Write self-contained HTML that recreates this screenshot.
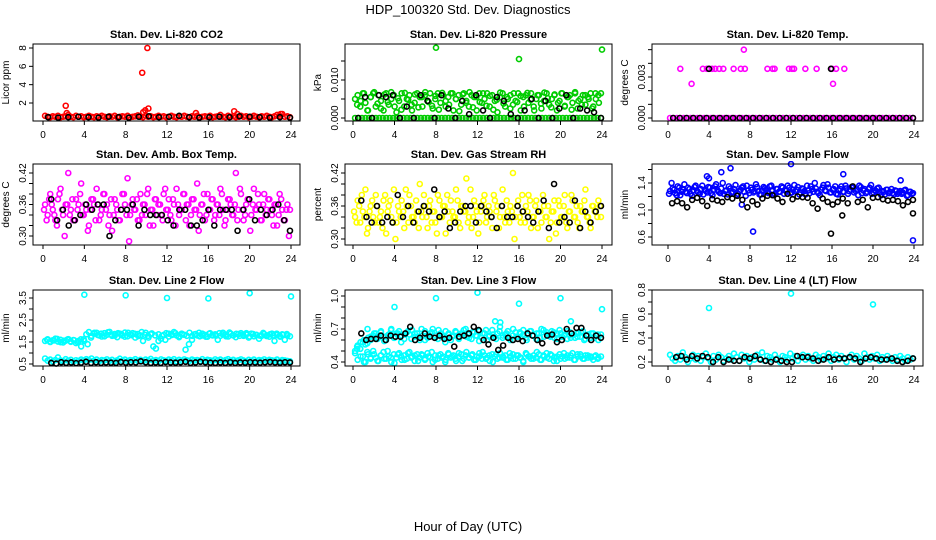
<!DOCTYPE html>
<html><head><meta charset="utf-8"><style>
html,body{margin:0;padding:0;background:#fff;}
svg{display:block;font-family:"Liberation Sans",sans-serif;}
</style></head><body>
<svg id="chart" width="936" height="540" viewBox="0 0 936 540">
<text x="468" y="14" text-anchor="middle" font-size="13">HDP_100320  Std. Dev. Diagnostics</text>
<text x="468" y="531" text-anchor="middle" font-size="13">Hour of Day (UTC)</text>
</svg>
<script>
// ---------- data ----------
const xTicks = [0,4,8,12,16,20,24];

const co2Red = [0.6,0.5,0.45,0.55,0.5,0.6,0.45,0.5,0.55,0.7,0.5,0.45,0.6,0.5,0.55,0.45,0.5,0.6,0.5,0.45,0.55,0.5,0.6,0.5,0.45,0.55,0.5,0.6,0.45,0.5,0.55,0.5,0.6,0.45,0.5,0.55,0.65,0.5,0.45,0.6,0.5,0.55,0.45,0.5,0.6,0.5,0.55,0.45,0.5,0.6,0.5,0.45,0.55,0.5,0.6,0.5,0.45,0.55,0.5,0.6,0.45,0.5,0.55,0.5,0.6,0.45,0.5,0.55,0.7,0.5,0.45,0.6,0.5,0.55,0.45,0.5,0.6,0.5,0.55,0.45,0.5,0.6,0.5,0.45,0.55,0.5,0.6,0.5,0.45,0.55,0.7,0.6,0.8,0.5,0.55,0.45];
const co2Black = [0.45,0.4,0.45,0.5,0.45,0.4,0.5,0.45,0.4,0.5,0.55,0.45,0.5,0.6,0.45,0.4,0.45,0.5,0.45,0.55,0.5,0.45,0.4,0.45,0.4];
const co2OutHours = [2.2,2.3,9.6,10.1,9.7,9.9,10.2,14.8,18.5,18.8,23.0];
const co2OutVals = [1.7,0.9,5.3,8.0,1.0,1.2,1.4,0.9,1.1,0.8,0.8];

const presGreen = [0.005,0.006,0.003,0.0065,0.004,0.002,0.0055,0.0065,0.003,0.006,0.0045,0.002,0.0065,0.0035,0.005,0.006,0.0015,0.0045,0.0065,0.003,0.005,0.006,0.002,0.004,0.0065,0.0055,0.003,0.006,0.0045,0.0065,0.0025,0.005,0.0065,0.004,0.006,0.003,0.0055,0.0065,0.002,0.005,0.006,0.0035,0.0065,0.0045,0.003,0.006,0.0055,0.002,0.0065,0.004,0.005,0.0065,0.003,0.006,0.0045,0.0015,0.0055,0.0065,0.003,0.005,0.006,0.0035,0.0045,0.0065,0.002,0.0055,0.006,0.004,0.0065,0.003,0.005,0.006,0.0025,0.0045,0.0065,0.0035,0.005,0.006,0.002,0.0045,0.0065,0.003,0.0055,0.006,0.004,0.0065,0.0025,0.005,0.006,0.0035,0.0055,0.0065,0.003,0.005,0.006,0.0065];
const presGreenB = [0.0035,0.0045,0.0065,0.002,0.0055,0.0068,0.0038,0.0025,0.0062,0.0042,0.0068,0.003,0.0052,0.0022,0.0066,0.0048,0.0035,0.0062,0.0028,0.0055,0.0068,0.0042,0.0032,0.0058,0.0022,0.0066,0.0045,0.0035,0.0065,0.005,0.0018,0.0062,0.004,0.0068,0.0028,0.0055,0.0042,0.0065,0.0032,0.0058,0.0022,0.0048,0.0067,0.0038,0.0055,0.0025,0.0065,0.0042,0.0058,0.003,0.0066,0.0048,0.002,0.006,0.0038,0.0067,0.0052,0.0028,0.0062,0.004,0.0065,0.0032,0.0055,0.0022,0.0068,0.0045,0.0035,0.006,0.005,0.0025,0.0065,0.004];
const presGreen0 = [0,0,0,0,0,0,0,0,0,0,0,0,0,0,0,0,0,0,0,0,0,0,0,0,0,0,0,0,0,0,0,0,0,0,0,0,0,0,0,0,0,0,0,0,0,0,0,0,0,0,0,0,0,0,0,0,0,0,0,0,0,0,0,0,0,0,0,0,0,0,0,0];
const presBlack = [0,0.0055,0,0.006,0.0055,0.006,0,0.003,0,0.006,0.0045,0,0.006,0.0025,0,0.0045,0.001,0.006,0.002,0,0.0055,0.0045,0.001,0,0.002,0.005,0,0.0045,0,0.0025,0.006,0,0.0025,0.002,0.0015,0];
const presOutHours = [8.0,16.0,24.0];
const presOutVals = [0.0185,0.0155,0.018];

const tempMag0 = [0,0,0,0,0,0,0,0,0,0,0,0,0,0,0,0,0,0,0,0,0,0,0,0,0,0,0,0,0,0,0,0,0,0,0,0,0,0,0,0,0,0,0,0,0,0,0,0,0,0,0,0,0,0,0,0,0,0,0,0,0,0,0,0,0,0,0,0,0,0,0,0];
const tempBlack0 = [0,0,0,0,0,0,0,0,0,0,0,0,0,0,0,0,0,0,0,0,0,0,0,0,0,0,0,0,0,0,0,0,0,0,0,0,0];
const tempMagHours = [1.2,3.4,3.8,4.3,4.6,5.0,5.4,6.4,7.1,7.5,9.7,10.2,10.4,11.8,12.1,12.3,13.4,14.5,16.0,16.4,17.2,2.3,7.4,16.1];
const tempMagVals = [0.0036,0.0036,0.0036,0.0036,0.0036,0.0036,0.0036,0.0036,0.0036,0.0036,0.0036,0.0036,0.0036,0.0036,0.0036,0.0036,0.0036,0.0036,0.0036,0.0036,0.0036,0.0025,0.005,0.0025];
const tempBlackHours = [4.0,15.9];
const tempBlackVals = [0.0036,0.0036];

const ambMagA = [0.36,0.34,0.38,0.35,0.33,0.37,0.39,0.34,0.36,0.42,0.35,0.33,0.37,0.36,0.40,0.34,0.35,0.32,0.37,0.36,0.39,0.33,0.35,0.38,0.36,0.34,0.31,0.37,0.35,0.33,0.38,0.36,0.41,0.34,0.37,0.35,0.33,0.38,0.36,0.34,0.39,0.35,0.32,0.37,0.36,0.34,0.38,0.35,0.37,0.33,0.36,0.39,0.34,0.35,0.38,0.36,0.32,0.37,0.35,0.40,0.34,0.36,0.33,0.38,0.35,0.37,0.34,0.36,0.39,0.35,0.33,0.37,0.36,0.34,0.42,0.35,0.38,0.33,0.36,0.37,0.34,0.39,0.35,0.36,0.33,0.38,0.35,0.37,0.34,0.36,0.32,0.38,0.35,0.33,0.36,0.35];
const ambMagB = [0.35,0.33,0.37,0.36,0.34,0.32,0.38,0.35,0.30,0.36,0.34,0.37,0.33,0.35,0.38,0.34,0.36,0.31,0.35,0.37,0.33,0.36,0.34,0.38,0.35,0.32,0.37,0.34,0.36,0.33,0.35,0.38,0.34,0.29,0.36,0.35,0.37,0.33,0.34,0.36,0.38,0.32,0.35,0.37,0.34,0.36,0.33,0.39,0.35,0.34,0.37,0.32,0.36,0.35,0.38,0.33,0.36,0.34,0.37,0.35,0.31,0.36,0.38,0.34,0.35,0.37,0.33,0.36,0.34,0.38,0.32,0.35,0.37,0.34,0.36,0.33,0.39,0.35,0.34,0.37,0.31,0.36,0.35,0.38,0.33,0.36,0.34,0.37,0.35,0.32,0.36,0.34,0.37,0.33,0.35,0.30];
const ambBlack = [0.37,0.33,0.35,0.32,0.33,0.34,0.36,0.35,0.36,0.36,0.30,0.33,0.35,0.35,0.36,0.32,0.35,0.34,0.34,0.34,0.33,0.32,0.35,0.35,0.32,0.32,0.33,0.35,0.32,0.35,0.35,0.35,0.31,0.35,0.37,0.33,0.35,0.34,0.35,0.36,0.33,0.31];

const rhYelA = [0.34,0.37,0.33,0.35,0.39,0.32,0.36,0.34,0.38,0.33,0.35,0.37,0.31,0.36,0.34,0.39,0.33,0.35,0.37,0.32,0.36,0.38,0.34,0.33,0.35,0.40,0.34,0.36,0.32,0.37,0.35,0.33,0.38,0.34,0.36,0.31,0.35,0.37,0.34,0.39,0.33,0.36,0.35,0.41,0.34,0.32,0.37,0.35,0.33,0.36,0.38,0.34,0.35,0.32,0.37,0.36,0.34,0.39,0.33,0.35,0.36,0.42,0.34,0.37,0.33,0.35,0.36,0.38,0.32,0.34,0.37,0.35,0.33,0.36,0.34,0.30,0.35,0.37,0.33,0.36,0.34,0.38,0.32,0.35,0.37,0.34,0.33,0.36,0.35,0.39,0.34,0.32,0.36,0.35,0.37,0.34];
const rhYelB = [0.35,0.33,0.36,0.38,0.34,0.31,0.35,0.37,0.33,0.36,0.34,0.32,0.38,0.35,0.37,0.33,0.30,0.36,0.34,0.35,0.39,0.33,0.36,0.34,0.37,0.32,0.35,0.38,0.34,0.36,0.33,0.35,0.31,0.37,0.34,0.36,0.38,0.33,0.35,0.34,0.37,0.32,0.36,0.35,0.33,0.39,0.34,0.36,0.31,0.35,0.37,0.33,0.36,0.34,0.38,0.35,0.32,0.36,0.34,0.37,0.33,0.35,0.30,0.36,0.34,0.38,0.33,0.35,0.37,0.34,0.36,0.32,0.35,0.38,0.34,0.36,0.33,0.35,0.31,0.37,0.34,0.36,0.33,0.35,0.38,0.34,0.36,0.32,0.35,0.37,0.34,0.33,0.36,0.35,0.34,0.36];
const rhBlack = [0.37,0.34,0.33,0.36,0.33,0.34,0.33,0.38,0.34,0.36,0.33,0.35,0.36,0.35,0.39,0.34,0.35,0.32,0.33,0.35,0.36,0.36,0.33,0.36,0.35,0.34,0.32,0.36,0.34,0.34,0.36,0.35,0.34,0.33,0.35,0.37,0.32,0.40,0.33,0.34,0.33,0.37,0.32,0.35,0.33,0.35,0.36];

const flowBlueA = [1.28,1.32,1.25,1.35,1.22,1.30,1.27,1.33,1.24,1.29,1.36,1.26,1.31,1.23,1.28,1.34,1.25,1.30,1.38,1.27,1.32,1.24,1.29,1.35,1.26,1.31,1.22,1.28,1.33,1.27,1.36,1.25,1.30,1.28,1.34,1.23,1.29,1.32,1.26,1.35,1.28,1.24,1.31,1.27,1.33,1.29,1.36,1.25,1.30,1.28,1.34,1.26,1.31,1.23,1.29,1.35,1.27,1.32,1.25,1.30,1.37,1.28,1.33,1.26,1.31,1.24,1.29,1.35,1.27,1.32,1.28,1.34,1.26,1.30,1.36,1.25,1.31,1.27,1.33,1.24,1.29,1.32,1.26,1.28,1.23,1.30,1.27,1.25,1.29,1.24,1.28,1.26,1.30,1.22,1.27,1.25];
const flowBlueB = [1.24,1.40,1.30,1.22,1.33,1.27,1.38,1.25,1.31,1.21,1.34,1.28,1.24,1.36,1.30,1.26,1.33,1.22,1.35,1.29,1.25,1.40,1.28,1.23,1.32,1.27,1.37,1.24,1.30,1.35,1.21,1.29,1.33,1.26,1.38,1.28,1.23,1.34,1.30,1.25,1.36,1.22,1.31,1.27,1.35,1.24,1.29,1.33,1.26,1.37,1.30,1.23,1.32,1.28,1.36,1.25,1.31,1.40,1.27,1.22,1.33,1.29,1.38,1.26,1.30,1.35,1.23,1.31,1.27,1.36,1.24,1.30,1.33,1.28,1.22,1.34,1.29,1.25,1.31,1.37,1.26,1.28,1.33,1.22,1.27,1.30,1.25,1.31,1.23,1.28,1.26,1.24,1.29,1.21,1.27,1.24];
const flowBlack = [1.10,1.13,1.10,1.04,1.15,1.18,1.13,1.06,1.16,1.14,1.12,1.19,1.17,1.21,1.15,1.04,1.13,1.08,1.17,1.21,1.22,1.17,1.12,1.24,1.16,1.20,1.19,1.18,1.10,1.02,1.17,1.12,1.08,1.12,1.17,1.10,1.35,1.12,1.15,1.04,1.18,1.19,1.16,1.14,1.15,1.13,1.07,1.12,1.15];
const flowBlueOutHours = [3.8,4.0,5.2,6.1,12.0,8.3,17.1,23.9,7.2,22.7];
const flowBlueOutVals = [1.50,1.47,1.56,1.62,1.68,0.68,1.53,0.55,1.08,1.44];
const flowBlackOutHours = [15.9,17.0,23.9];
const flowBlackOutVals = [0.65,0.92,0.95];

const l2Upper = [1.55,1.62,1.50,1.58,1.65,1.52,1.60,1.48,1.56,1.63,1.51,1.59,1.45,1.55,1.30,1.62,1.85,1.95,1.78,1.88,1.92,1.80,1.75,1.90,1.83,1.96,1.78,1.86,1.72,1.88,1.80,1.93,1.76,1.84,1.90,1.70,1.86,1.80,1.55,1.92,1.78,1.85,1.30,1.20,1.55,1.65,1.82,1.90,1.75,1.86,1.95,1.80,1.72,1.88,1.83,1.78,1.92,1.60,1.85,1.80,1.76,1.88,1.82,1.74,1.90,1.80,1.85,1.60,1.78,1.92,1.83,1.75,1.88,1.80,1.72,1.86,1.90,1.78,1.84,1.70,1.88,1.76,1.82,1.65,1.78,1.86,1.80,1.74,1.88,1.55,1.82,1.78,1.85,1.60,1.80,1.76];
const l2UpperB = [1.60,1.52,1.57,1.64,1.49,1.56,1.61,1.53,1.58,1.50,1.62,1.55,1.40,1.70,1.92,1.82,1.88,1.76,1.94,1.84,1.79,1.90,1.86,1.74,1.92,1.81,1.87,1.77,1.95,1.83,1.70,1.89,1.80,1.85,1.78,1.60,1.88,1.82,1.90,1.76,1.84,1.15,1.40,1.78,1.86,1.92,1.80,1.74,1.88,1.83,1.79,1.90,1.85,1.76,1.93,1.81,1.87,1.78,1.84,1.90,1.75,1.86,1.82,1.79,1.91,1.77,1.85,1.80,1.88,1.74,1.83,1.86];
const l2Lower = [0.75,0.65,0.70,0.62,0.68,0.80,0.66,0.63,0.72,0.65,0.69,0.61,0.67,0.64,0.70,0.66,0.72,0.68,0.75,0.65,0.70,0.63,0.68,0.66,0.71,0.64,0.69,0.62,0.67,0.74,0.65,0.70,0.63,0.68,0.66,0.72,0.64,0.69,0.62,0.70,0.66,0.73,0.65,0.68,0.63,0.71,0.67,0.64,0.70,0.66,0.72,0.63,0.69,0.65,0.71,0.67,0.64,0.70,0.66,0.68,0.63,0.72,0.65,0.69,0.67,0.64,0.71,0.66,0.70,0.63,0.68,0.72,0.65,0.69,0.64,0.67,0.71,0.66,0.62,0.69,0.65,0.70,0.63,0.68,0.66,0.71,0.64,0.69,0.67,0.65,0.70,0.63,0.68,0.66,0.64,0.62];
const l2Black = [0.55,0.52,0.58,0.55,0.57,0.54,0.56,0.60,0.55,0.58,0.55,0.57,0.56,0.55,0.59,0.56,0.58,0.57,0.62,0.58,0.55,0.57,0.55,0.59,0.57,0.56,0.58,0.60,0.55,0.57,0.60,0.58,0.56,0.55,0.57,0.55,0.58,0.55,0.57,0.56,0.58,0.57,0.56,0.58,0.59,0.57,0.56,0.58,0.57];
const l2OutHours = [4.0,8.0,12.0,16.0,20.0,24.0];
const l2OutVals = [3.65,3.62,3.50,3.48,3.72,3.57];

const l3Upper = [0.50,0.55,0.52,0.58,0.56,0.62,0.60,0.64,0.66,0.62,0.68,0.63,0.60,0.65,0.70,0.62,0.66,0.68,0.64,0.61,0.67,0.65,0.69,0.63,0.66,0.60,0.64,0.68,0.62,0.66,0.70,0.64,0.61,0.66,0.63,0.68,0.65,0.60,0.64,0.67,0.62,0.66,0.69,0.63,0.65,0.61,0.67,0.64,0.68,0.62,0.66,0.60,0.64,0.69,0.63,0.66,0.72,0.62,0.65,0.68,0.60,0.64,0.67,0.63,0.66,0.69,0.62,0.65,0.68,0.64,0.61,0.66,0.70,0.63,0.67,0.64,0.68,0.62,0.66,0.69,0.63,0.65,0.61,0.67,0.64,0.62,0.66,0.63,0.68,0.61,0.65,0.62,0.66,0.64,0.60,0.65];
const l3UpperB = [0.54,0.58,0.60,0.57,0.63,0.66,0.61,0.67,0.59,0.64,0.69,0.62,0.66,0.58,0.65,0.68,0.61,0.66,0.63,0.70,0.60,0.65,0.67,0.62,0.69,0.64,0.58,0.66,0.63,0.68,0.61,0.65,0.70,0.62,0.67,0.64,0.59,0.66,0.69,0.63,0.65,0.61,0.68,0.64,0.66,0.62,0.70,0.63,0.67,0.65,0.60,0.68,0.64,0.66,0.62,0.69,0.65,0.63,0.67,0.61,0.66,0.64,0.68,0.62,0.65,0.63,0.67,0.60,0.64,0.66,0.62,0.65];
const l3Lower = [0.48,0.42,0.52,0.45,0.40,0.47,0.43,0.50,0.44,0.41,0.46,0.49,0.43,0.45,0.40,0.47,0.44,0.48,0.42,0.46,0.43,0.49,0.45,0.41,0.47,0.44,0.46,0.42,0.48,0.44,0.40,0.46,0.43,0.47,0.45,0.42,0.48,0.44,0.46,0.41,0.45,0.47,0.43,0.49,0.44,0.46,0.42,0.45,0.48,0.43,0.46,0.44,0.41,0.47,0.45,0.43,0.48,0.44,0.46,0.42,0.45,0.47,0.43,0.46,0.44,0.40,0.48,0.45,0.43,0.46,0.44,0.47,0.42,0.45,0.48,0.43,0.46,0.44,0.41,0.47,0.45,0.43,0.46,0.44,0.48,0.42,0.45,0.47,0.43,0.46,0.44,0.45,0.42,0.46,0.44,0.45];
const l3LowerB = [0.52,0.45,0.40,0.49,0.44,0.47,0.41,0.46,0.43,0.50,0.44,0.39,0.47,0.45,0.42,0.48,0.44,0.46,0.41,0.47,0.43,0.45,0.49,0.42,0.46,0.44,0.40,0.47,0.45,0.43,0.48,0.41,0.46,0.44,0.47,0.42,0.45,0.49,0.43,0.46,0.40,0.47,0.44,0.45,0.42,0.48,0.43,0.46,0.44,0.41,0.47,0.45,0.43,0.49,0.42,0.46,0.44,0.47,0.41,0.45,0.43,0.48,0.44,0.46,0.42,0.47,0.45,0.43,0.46,0.44,0.45,0.43];
const l3Black = [0.66,0.60,0.61,0.61,0.64,0.60,0.64,0.63,0.63,0.66,0.72,0.60,0.62,0.66,0.63,0.62,0.64,0.61,0.62,0.54,0.63,0.64,0.66,0.72,0.69,0.60,0.56,0.62,0.51,0.55,0.62,0.60,0.61,0.59,0.66,0.64,0.60,0.57,0.64,0.65,0.58,0.60,0.70,0.66,0.71,0.71,0.64,0.60,0.64,0.62];
const l3OutHours = [4.0,8.0,12.0,16.0,20.0,24.0,13.7,14.2,1.4,21.0];
const l3OutVals = [0.90,0.98,1.03,0.93,0.98,0.88,0.77,0.76,0.70,0.77];

const l4Cyan = [0.26,0.23,0.21,0.25,0.22,0.28,0.24,0.20,0.23,0.26,0.22,0.25,0.21,0.24,0.27,0.23,0.20,0.25,0.22,0.26,0.24,0.21,0.23,0.25,0.22,0.27,0.24,0.21,0.26,0.23,0.25,0.20,0.24,0.22,0.26,0.23,0.28,0.21,0.25,0.24,0.22,0.26,0.23,0.20,0.25,0.24,0.22,0.27,0.23,0.25,0.21,0.24,0.26,0.22,0.25,0.23,0.21,0.26,0.24,0.22,0.25,0.23,0.27,0.21,0.24,0.26,0.22,0.25,0.23,0.20,0.24,0.26,0.22,0.25,0.23,0.21,0.27,0.24,0.22,0.25,0.23,0.26,0.21,0.24,0.22,0.25,0.23,0.21,0.24,0.22,0.25,0.23,0.21,0.24,0.22,0.23];
const l4Black = [0.24,0.25,0.22,0.25,0.23,0.25,0.24,0.20,0.24,0.20,0.22,0.21,0.21,0.24,0.23,0.25,0.22,0.21,0.20,0.22,0.21,0.20,0.20,0.25,0.24,0.24,0.23,0.21,0.22,0.24,0.22,0.23,0.23,0.24,0.23,0.20,0.23,0.24,0.23,0.22,0.22,0.23,0.21,0.20,0.21,0.23];
const l4OutHours = [4.0,12.0,20.0];
const l4OutVals = [0.65,0.77,0.68];

// ---------- drawing ----------
const NS = 'http://www.w3.org/2000/svg';
const svg = document.getElementById('chart');
function mk(tag, attrs, parent){
  const e = document.createElementNS(NS, tag);
  for (const k in attrs) e.setAttribute(k, attrs[k]);
  (parent||svg).appendChild(e);
  return e;
}
function makePanel(cfg){
  const g = mk('g', {});
  
  
  const sx = h => cfg.x0 + (cfg.x24 - cfg.x0) * h / 24;
  const sy = v => cfg.py1 + (cfg.py2 - cfg.py1) * (v - cfg.v1) / (cfg.v2 - cfg.v1);
  const t = mk('text', {x:(cfg.l+cfg.r)/2, y:cfg.t-6, 'text-anchor':'middle', 'font-size':11, 'font-weight':'bold'}, g);
  t.textContent = cfg.title;
  
  
  const yl = mk('text', {x:0, y:0, 'text-anchor':'middle', 'font-size':10, transform:`translate(${cfg.l-24},${(cfg.t+cfg.b)/2}) rotate(-90)`}, g);
  yl.textContent = cfg.ylab;
  
  
  xTicks.forEach(h => {
    const tk = mk('line', {x1:sx(h), x2:sx(h), y1:cfg.b, y2:cfg.b+4, stroke:'#000', 'stroke-width':1}, g);
    
    
    const lb = mk('text', {x:sx(h), y:cfg.b+17, 'text-anchor':'middle', 'font-size':10}, g);
    lb.textContent = h;
    
    
  });
  cfg.yt.forEach(v => {
    const tk = mk('line', {x1:cfg.l-4, x2:cfg.l, y1:sy(v), y2:sy(v), stroke:'#000', 'stroke-width':1}, g);
    
    
  });
  cfg.ylabs.forEach(s => {
    const v = parseFloat(s);
    const lb = mk('text', {x:0, y:0, 'text-anchor':'middle', 'font-size':10, transform:`translate(${cfg.l-7},${sy(v)}) rotate(-90)`}, g);
    lb.textContent = s;
    
    
  });
  const clipId = 'c' + cfg.name;
  const cp = mk('clipPath', {id:clipId}, g);
  mk('rect', {x:cfg.l-3, y:cfg.t-3, width:cfg.r-cfg.l+6, height:cfg.b-cfg.t+6}, cp);
  const pts = mk('g', {'clip-path':`url(#${clipId})`}, g);
  function dot(h, v, col){
    const c = mk('circle', {cx:sx(h), cy:sy(v), r:2.5, fill:'none', stroke:col, 'stroke-width':1.6}, pts);
    
    
  }
  cfg.series.forEach(s => {
    if (s.hours) s.vals.forEach((v,i) => dot(s.hours[i], v, s.col));
    else { const n = s.vals.length, a = s.start||0.2, z = s.end||23.9;
      s.vals.forEach((v,i) => dot(a + (z-a)*i/(n-1), v, s.col)); }
  });
  const box = mk('rect', {x:cfg.l, y:cfg.t, width:cfg.r-cfg.l, height:cfg.b-cfg.t, fill:'none', stroke:'#000', 'stroke-width':1}, g);
  
  
}
const R='#ff0000', K='#000000', G='#00cc00', M='#ff00ff', Y='#ffff00', B='#0000ff', C='#00ffff';
const col1={l:33,r:300,x0:43,x24:291}, col2={l:345,r:612,x0:353,x24:602}, col3={l:652,r:923,x0:668,x24:914};
const row1={t:44,b:121}, row2={t:164,b:245}, row3={t:290,b:366};

makePanel(Object.assign({name:'panel-co2', title:'Stan. Dev. Li-820 CO2', ylab:'Licor ppm', v1:2, py1:103, v2:8, py2:48, yt:[2,4,6,8], ylabs:['2','4','6','8'],
  series:[{vals:co2Red,col:R},{hours:co2OutHours,vals:co2OutVals,col:R},{vals:co2Black,col:K,start:0.5}]}, col1, row1));
makePanel(Object.assign({name:'panel-pressure', title:'Stan. Dev. Li-820 Pressure', ylab:'kPa', v1:0, py1:118, v2:0.01, py2:80, yt:[0,0.005,0.01,0.015], ylabs:['0.000','0.010'],
  series:[{vals:presGreen0,col:G},{vals:presGreen,col:G},{vals:presGreenB,col:G,start:0.4,end:23.7},{hours:presOutHours,vals:presOutVals,col:G},{vals:presBlack,col:K,start:0.5}]}, col2, row1));
makePanel(Object.assign({name:'panel-licor-temp', title:'Stan. Dev. Li-820 Temp.', ylab:'degrees C', v1:0, py1:118, v2:0.003, py2:77, yt:[0,0.001,0.002,0.003,0.004,0.005], ylabs:['0.000','0.003'],
  series:[{vals:tempMag0,col:M,start:0},{hours:tempMagHours,vals:tempMagVals,col:M},{vals:tempBlack0,col:K,start:0.5},{hours:tempBlackHours,vals:tempBlackVals,col:K}]}, col3, row1));
makePanel(Object.assign({name:'panel-amb-box-temp', title:'Stan. Dev. Amb. Box Temp.', ylab:'degrees C', v1:0.30, py1:236, v2:0.42, py2:173, yt:[0.30,0.32,0.34,0.36,0.38,0.40,0.42], ylabs:['0.30','0.36','0.42'],
  series:[{vals:ambMagA,col:M},{vals:ambMagB,col:M,start:0.1,end:23.8},{vals:ambBlack,col:K,start:0.8}]}, col1, row2));
makePanel(Object.assign({name:'panel-gas-rh', title:'Stan. Dev. Gas Stream RH', ylab:'percent', v1:0.30, py1:239, v2:0.42, py2:173, yt:[0.30,0.32,0.34,0.36,0.38,0.40,0.42], ylabs:['0.30','0.36','0.42'],
  series:[{vals:rhYelA,col:Y},{vals:rhYelB,col:Y,start:0.1,end:23.8},{vals:rhBlack,col:K,start:0.8}]}, col2, row2));
makePanel(Object.assign({name:'panel-sample-flow', title:'Stan. Dev. Sample Flow', ylab:'ml/min', v1:0.6, py1:237, v2:1.4, py2:183, yt:[0.6,0.8,1.0,1.2,1.4,1.6], ylabs:['0.6','1.0','1.4'],
  series:[{vals:flowBlueA,col:B},{vals:flowBlueB,col:B,start:0.1,end:23.8},{hours:flowBlueOutHours,vals:flowBlueOutVals,col:B},{vals:flowBlack,col:K,start:0.4},{hours:flowBlackOutHours,vals:flowBlackOutVals,col:K}]}, col3, row2));
makePanel(Object.assign({name:'panel-line2-flow', title:'Stan. Dev. Line 2 Flow', ylab:'ml/min', v1:0.5, py1:364, v2:3.5, py2:298, yt:[0.5,1.0,1.5,2.0,2.5,3.0,3.5], ylabs:['0.5','1.5','2.5','3.5'],
  series:[{vals:l2Upper,col:C},{vals:l2UpperB,col:C,start:0.4,end:23.6},{vals:l2Lower,col:C},{hours:l2OutHours,vals:l2OutVals,col:C},{vals:l2Black,col:K,start:0.8}]}, col1, row3));
makePanel(Object.assign({name:'panel-line3-flow', title:'Stan. Dev. Line 3 Flow', ylab:'ml/min', v1:0.4, py1:362, v2:1.0, py2:296, yt:[0.4,0.5,0.6,0.7,0.8,0.9,1.0], ylabs:['0.4','0.7','1.0'],
  series:[{vals:l3Upper,col:C},{vals:l3UpperB,col:C,start:0.4,end:23.6},{vals:l3Lower,col:C},{vals:l3LowerB,col:C,start:0.4,end:23.6},{hours:l3OutHours,vals:l3OutVals,col:C},{vals:l3Black,col:K,start:0.8}]}, col2, row3));
makePanel(Object.assign({name:'panel-line4-flow', title:'Stan. Dev. Line 4 (LT) Flow', ylab:'ml/min', v1:0.2, py1:362, v2:0.8, py2:290, yt:[0.2,0.3,0.4,0.5,0.6,0.7,0.8], ylabs:['0.2','0.4','0.6','0.8'],
  series:[{vals:l4Cyan,col:C},{hours:l4OutHours,vals:l4OutVals,col:C},{vals:l4Black,col:K,start:0.8}]}, col3, row3));
</script>
</body></html>
